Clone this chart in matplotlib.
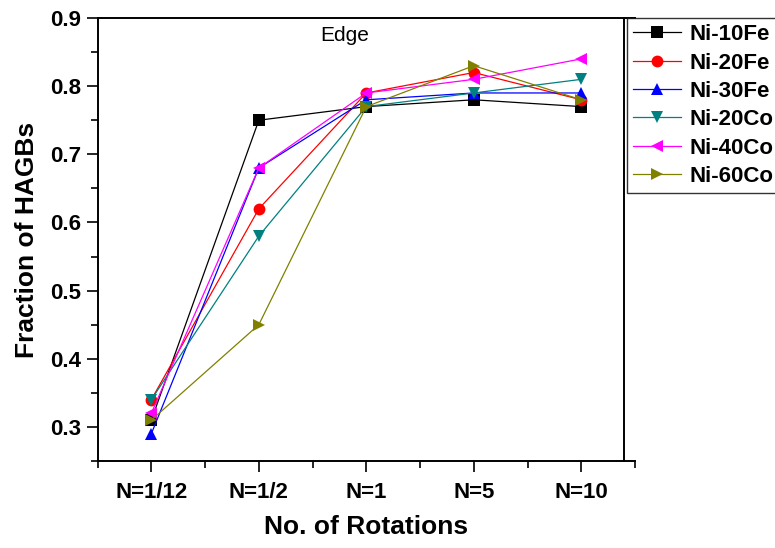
import matplotlib
matplotlib.use("Agg")
import matplotlib.pyplot as plt
from matplotlib.ticker import MultipleLocator

plt.rcParams['font.family'] = ['Liberation Sans', 'DejaVu Sans']

categories = ["N=1/12", "N=1/2", "N=1", "N=5", "N=10"]

ni_10fe = [0.31, 0.75, 0.77, 0.78, 0.77]
ni_20fe = [0.34, 0.62, 0.79, 0.82, 0.78]
ni_30fe = [0.29, 0.68, 0.78, 0.79, 0.79]
ni_20co = [0.34, 0.58, 0.77, 0.79, 0.81]
ni_40co = [0.32, 0.68, 0.79, 0.81, 0.84]
ni_60co = [0.31, 0.45, 0.77, 0.83, 0.78]

series = [
    ("Ni-10Fe", ni_10fe, "black", "s"),
    ("Ni-20Fe", ni_20fe, "red", "o"),
    ("Ni-30Fe", ni_30fe, "blue", "^"),
    ("Ni-20Co", ni_20co, "#008080", "v"),
    ("Ni-40Co", ni_40co, "#FF00FF", "<"),
    ("Ni-60Co", ni_60co, "#808000", ">"),
]

fig = plt.figure(figsize=(7.75, 5.48), dpi=100)
ax = fig.add_axes([97.6 / 775, 1 - 461 / 548, (635 - 97.6) / 775, (461 - 18) / 548])

x = list(range(len(categories)))
handles = []
for name, vals, color, marker in series:
    h, = ax.plot(x, vals, color=color, marker=marker, markersize=8.5,
                 linewidth=0.9, label=name, markeredgewidth=0)
    handles.append(h)

ax.set_xlim(-0.5, 4.5)
ax.set_ylim(0.25, 0.9)
ax.set_xticks(x)
ax.set_xticklabels(categories)
ax.xaxis.set_minor_locator(MultipleLocator(0.5))
ax.yaxis.set_major_locator(MultipleLocator(0.1))
ax.yaxis.set_minor_locator(MultipleLocator(0.05))
ax.yaxis.set_major_formatter(plt.FormatStrFormatter('%.1f'))

ax.tick_params(which='major', direction='out', length=8, width=1.2,
               labelsize=16, top=False, right=False)
ax.tick_params(which='minor', direction='out', length=5, width=1.2,
               top=False, right=False)
ax.tick_params(axis='x', which='major', pad=7)
ax.tick_params(axis='y', which='major', pad=4)
for lbl in ax.get_xticklabels() + ax.get_yticklabels():
    lbl.set_fontweight('bold')

for side in ['left', 'bottom', 'top']:
    ax.spines[side].set_linewidth(1.4)
ax.spines['right'].set_visible(False)
# right frame edge sits just inside the end of the x axis
ax.axvline(4.4, color='black', linewidth=1.4, clip_on=False)

ax.set_xlabel("No. of Rotations", fontsize=19, fontweight='bold', labelpad=9)
ax.set_ylabel("Fraction of HAGBs", fontsize=19, fontweight='bold', labelpad=8)

ax.text(1.8, 0.874, "Edge", fontsize=15, ha='center', va='center')

leg = fig.legend(handles=handles, loc='upper left',
                 bbox_to_anchor=(627 / 775, 1 - 18 / 548),
                 frameon=True, fancybox=False, shadow=False,
                 prop={'size': 16, 'weight': 'bold'},
                 handlelength=2.16, handletextpad=0.36, labelspacing=0.33,
                 borderpad=0.28, borderaxespad=0, markerscale=1.0)
leg.get_frame().set_edgecolor('black')
leg.get_frame().set_linewidth(1.0)

fig.savefig("out.png", dpi=100)
